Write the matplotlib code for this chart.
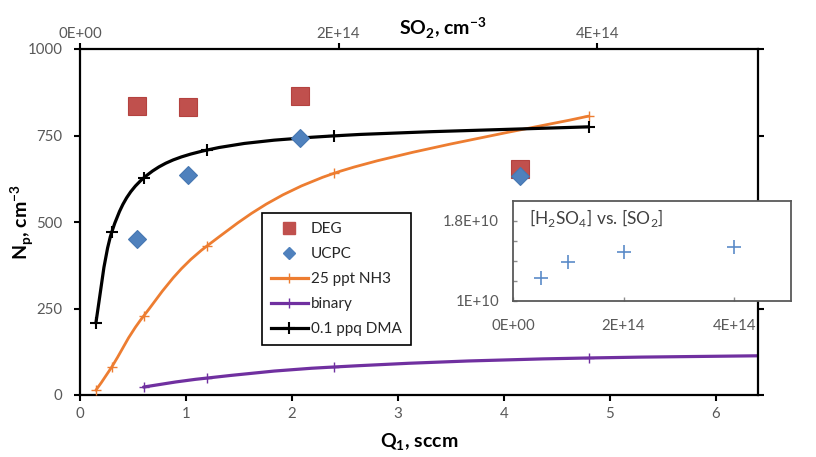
import numpy as np
import matplotlib
matplotlib.use("Agg")
import matplotlib.pyplot as plt
from matplotlib.path import Path
from matplotlib.patches import PathPatch
from matplotlib.lines import Line2D

plt.rcParams['font.family'] = ['Lato', 'DejaVu Sans']

# --- measured particle concentrations vs. flow Q1 (sccm) ---
deg_q = [0.54, 1.02, 2.08, 4.15]
deg_np = [835, 832, 864, 652]
ucpc_q = [0.54, 1.02, 2.08, 4.15]
ucpc_np = [451, 636, 742, 632]

# --- model curves ---
nh3_q = [0.15, 0.3, 0.6, 1.2, 2.4, 4.8]
nh3_np = [14, 81, 228, 431, 641, 806]
binary_q = [0.6, 1.2, 2.4, 4.8, 9.6]
binary_np = [23, 49, 81, 107, 122]
dma_q = [0.15, 0.3, 0.6, 1.2, 2.4, 4.8]
dma_np = [208, 471, 627, 708, 749, 775]

# --- inset: [H2SO4] vs [SO2] ---
so2_inset = [0.5e14, 1.0e14, 2.0e14, 4.0e14]
h2so4_inset = [1.23e10, 1.39e10, 1.49e10, 1.54e10]

# tick labels
q_ticks = [0, 1, 2, 3, 4, 5, 6]
np_ticks = [0, 250, 500, 750, 1000]
so2_ticks = [0, 2e14, 4e14]
so2_ticklabels = ['0E+00', '2E+14', '4E+14']
inset_yticks = [1.0e10, 1.2e10, 1.4e10, 1.6e10, 1.8e10]
inset_yticklabels = ['1E+10', '', '', '', '1.8E+10']

GRAY = '#595959'
C_DEG = '#C0504D'
C_UCPC = '#4F81BD'
C_NH3 = '#ED7D31'
C_BIN = '#7030A0'
C_DMA = '#000000'


def smooth_path(x, y):
    """Cubic Bezier path through the points (spreadsheet-style smoothing)."""
    pts = np.column_stack([x, y]).astype(float)
    n = len(pts)
    verts = [pts[0]]
    codes = [Path.MOVETO]
    for i in range(n - 1):
        p0 = pts[i - 1] if i > 0 else pts[i]
        p1 = pts[i]
        p2 = pts[i + 1]
        p3 = pts[i + 2] if i + 2 < n else pts[i + 1]
        verts += [p1 + (p2 - p0) / 6.0, p2 - (p3 - p1) / 6.0, p2]
        codes += [Path.CURVE4] * 3
    return Path(verts, codes)


fig = plt.figure(figsize=(8.16, 4.57), dpi=100)
ax = fig.add_axes([80 / 816, 1 - 395 / 457, 678 / 816, 346 / 457])

# smoothed model lines with '+' markers at the computed points
for xs, ys, c, lw, ms, mew in [
    (nh3_q, nh3_np, C_NH3, 2.0, 7, 1.0),
    (binary_q, binary_np, C_BIN, 2.3, 7, 1.0),
    (dma_q, dma_np, C_DMA, 2.3, 8, 1.5),
]:
    ax.add_patch(PathPatch(smooth_path(xs, ys), fill=False, edgecolor=c,
                           lw=lw, capstyle='round', joinstyle='round', zorder=2))
    ax.plot(xs, ys, ls='none', marker='+', color=c, ms=ms, mew=mew, zorder=3)

ax.plot(deg_q, deg_np, ls='none', marker='s', ms=12.5, color=C_DEG,
        mec='#B4423F', mew=0.8, zorder=4)
ax.plot(ucpc_q, ucpc_np, ls='none', marker='D', ms=9, color=C_UCPC,
        mec='#4677B2', mew=0.8, zorder=5)

ax.set_xlim(0, 6.4)
ax.set_ylim(0, 1000)
ax.set_xticks(q_ticks)
ax.set_yticks(np_ticks)
for s in ax.spines.values():
    s.set_linewidth(1.6)
    s.set_color('black')
ax.tick_params(axis='both', direction='out', length=4.5, width=1.5,
               color='black', labelcolor=GRAY, labelsize=10.8)
ax.tick_params(axis='y', pad=8, right=True, labelright=False)
ax.tick_params(axis='x', pad=4)

ax.set_xlabel(r'Q$_\mathregular{1}$, sccm', fontsize=14, fontweight='bold')
ax.xaxis.set_label_coords(0.5, -0.138)
ax.xaxis.label.set_va('center')
ax.set_ylabel(r'N$_\mathregular{p}$, cm$^\mathregular{-3}$', fontsize=14,
              fontweight='bold')
ax.yaxis.set_label_coords(-0.0855, 0.5)
ax.yaxis.label.set_va('center')

# secondary top axis: SO2 concentration
ax2 = ax.twiny()
ax2.set_xlim(0, 5.245e14)
ax2.set_xticks(so2_ticks)
ax2.set_xticklabels(so2_ticklabels)
ax2.tick_params(axis='x', direction='out', length=4.5, width=1.5,
                color='black', labelcolor=GRAY, labelsize=10.8, pad=1.5)
for s in ax2.spines.values():
    s.set_visible(False)
ax2.set_xlabel(r'SO$_\mathregular{2}$, cm$^\mathregular{-3}$', fontsize=14,
               fontweight='bold')
ax2.xaxis.set_label_coords(0.535, 1.06)
ax2.xaxis.label.set_va('center')

# legend
handles = [
    Line2D([], [], ls='none', marker='s', ms=8, color=C_DEG, mec=C_DEG),
    Line2D([], [], ls='none', marker='D', ms=6, color=C_UCPC, mec=C_UCPC),
    Line2D([], [], color=C_NH3, lw=2.3, marker='+', ms=7, mew=1.0),
    Line2D([], [], color=C_BIN, lw=2.3, marker='+', ms=7, mew=1.0),
    Line2D([], [], color=C_DMA, lw=2.3, marker='+', ms=8, mew=1.5),
]
labels = ['DEG', 'UCPC', '25 ppt NH3', 'binary', '0.1 ppq DMA']
leg = ax.legend(handles, labels, loc='upper left',
                bbox_to_anchor=(0.268, 0.526), borderaxespad=0,
                fontsize=11, numpoints=1, handlelength=2.4,
                handletextpad=0.2, labelspacing=0.72, borderpad=0.6,
                fancybox=False, framealpha=1, edgecolor='black')
leg.get_frame().set_linewidth(1.2)
for t in leg.get_texts():
    t.set_color('#262626')
leg.set_zorder(6)

# inset: [H2SO4] vs [SO2]
ins = fig.add_axes([513 / 816, 1 - 301 / 457, 278 / 816, 100 / 457])
ins.set_zorder(10)
ins.set_facecolor('white')
ins.plot(so2_inset, h2so4_inset, ls='none', marker='+', ms=10, mew=1.2,
         color='#5B8BC8')
ins.set_xlim(0, 5.03e14)
ins.set_ylim(1.0e10, 2.0e10)
ins.set_xticks(so2_ticks)
ins.set_xticklabels(so2_ticklabels)
ins.set_yticks(inset_yticks)
ins.set_yticklabels(inset_yticklabels)
for s in ins.spines.values():
    s.set_color(GRAY)
    s.set_linewidth(1.3)
ins.tick_params(axis='both', direction='in', length=3, width=1,
                color='#8c8c8c', labelcolor=GRAY, labelsize=10.8)
ins.tick_params(axis='y', pad=10)
ins.tick_params(axis='x', pad=13)
ins.text(0.058, 0.83,
         r'[H$_\mathregular{2}$SO$_\mathregular{4}$] vs. [SO$_\mathregular{2}$]',
         transform=ins.transAxes, ha='left', va='center', fontsize=12.5,
         color='#404040')

fig.savefig('out.png', dpi=100, facecolor='white')
